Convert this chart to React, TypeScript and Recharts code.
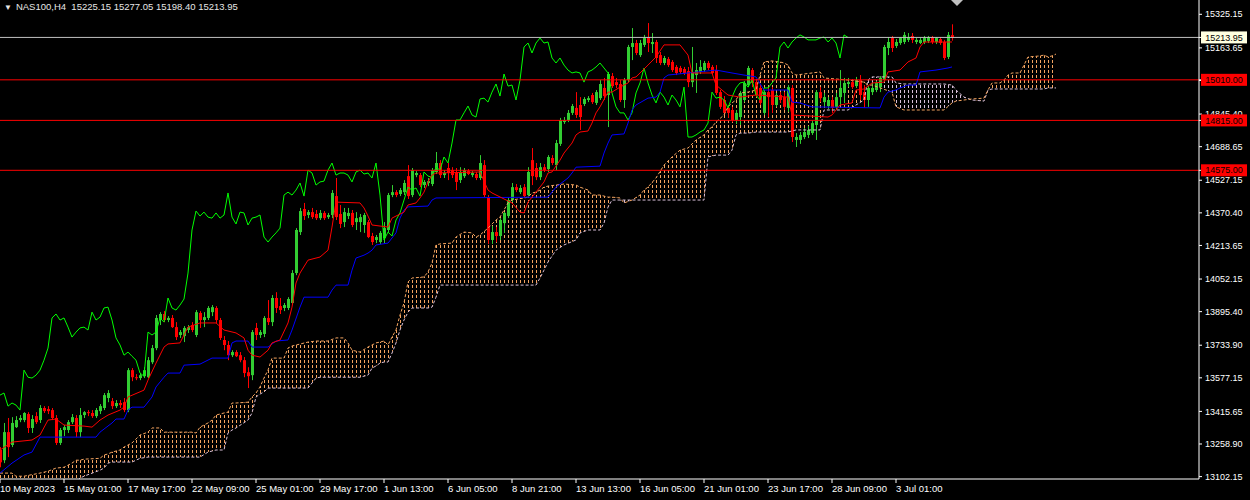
import React from 'react'
import { ComposedChart, Bar, Line, Area, XAxis, YAxis, ReferenceLine } from 'recharts'

const FONT = "'Liberation Sans', Arial, sans-serif"
const BULL = '#32cd32'
const BEAR = '#ff0000'
const SPAN_A = '#f4a460'
const SPAN_B = '#d8bfd8'

// NAS100 H4 bars, bar 0 = 10 May 2023 — [open, high, low, close]
const candles: [number, number, number, number][] = [
  [13230, 13244, 13147, 13171], [13181, 13360, 13167, 13316], [13316, 13384, 13196, 13244], [13254, 13388, 13244, 13360],
  [13340, 13393, 13336, 13374], [13374, 13398, 13364, 13384], [13374, 13412, 13364, 13408], [13403, 13412, 13312, 13336],
  [13336, 13398, 13312, 13379], [13393, 13412, 13355, 13364], [13374, 13446, 13360, 13432], [13432, 13441, 13408, 13417],
  [13427, 13441, 13403, 13417], [13422, 13432, 13374, 13384], [13384, 13398, 13254, 13264], [13264, 13336, 13254, 13326],
  [13326, 13350, 13297, 13340], [13326, 13374, 13312, 13364], [13364, 13403, 13355, 13388], [13384, 13398, 13292, 13316],
  [13316, 13432, 13292, 13398], [13398, 13417, 13384, 13412], [13412, 13422, 13393, 13408], [13408, 13422, 13384, 13393],
  [13393, 13432, 13384, 13422], [13417, 13451, 13403, 13441], [13432, 13504, 13422, 13494], [13480, 13518, 13460, 13504],
  [13465, 13480, 13427, 13441], [13441, 13470, 13432, 13456], [13456, 13470, 13432, 13446], [13460, 13480, 13412, 13422],
  [13422, 13624, 13412, 13614], [13614, 13624, 13561, 13580], [13580, 13595, 13566, 13576], [13576, 13600, 13566, 13590],
  [13585, 13628, 13576, 13614], [13580, 13677, 13576, 13662], [13652, 13735, 13643, 13720], [13720, 13879, 13710, 13865],
  [13855, 13893, 13831, 13884], [13884, 13898, 13845, 13855], [13855, 13874, 13845, 13865], [13865, 13879, 13817, 13821],
  [13821, 13845, 13759, 13773], [13783, 13807, 13769, 13797], [13778, 13826, 13749, 13817], [13807, 13831, 13793, 13821],
  [13831, 13845, 13797, 13807], [13783, 13903, 13773, 13893], [13889, 13898, 13817, 13855], [13855, 13893, 13821, 13869],
  [13865, 13922, 13855, 13913], [13893, 13927, 13874, 13917], [13913, 13922, 13841, 13855], [13855, 13865, 13759, 13769],
  [13759, 13778, 13710, 13735], [13735, 13754, 13662, 13686], [13686, 13710, 13677, 13701], [13701, 13710, 13677, 13681],
  [13686, 13701, 13652, 13662], [13662, 13677, 13580, 13600], [13604, 13628, 13528, 13585], [13590, 13807, 13566, 13797],
  [13817, 13841, 13759, 13783], [13783, 13807, 13769, 13797], [13788, 13874, 13773, 13865], [13865, 13951, 13831, 13845],
  [13845, 13975, 13826, 13961], [13961, 13989, 13889, 13913], [13922, 13961, 13884, 13903], [13913, 13937, 13898, 13927],
  [13913, 13965, 13903, 13956], [13937, 14095, 13927, 14081], [14081, 14297, 14071, 14288], [14278, 14394, 14264, 14379],
  [14389, 14418, 14336, 14355], [14360, 14384, 14345, 14374], [14374, 14394, 14341, 14350], [14365, 14384, 14336, 14345],
  [14345, 14384, 14336, 14370], [14370, 14379, 14336, 14345], [14350, 14370, 14341, 14360], [14360, 14480, 14345, 14466],
  [14451, 14538, 14336, 14350], [14365, 14408, 14297, 14317], [14326, 14394, 14302, 14374], [14355, 14394, 14341, 14370],
  [14370, 14384, 14302, 14312], [14326, 14374, 14288, 14345], [14326, 14365, 14278, 14350], [14312, 14370, 14274, 14360],
  [14326, 14336, 14249, 14254], [14259, 14274, 14216, 14230], [14240, 14264, 14225, 14254], [14230, 14283, 14221, 14274],
  [14249, 14326, 14225, 14297], [14288, 14466, 14278, 14456], [14456, 14504, 14446, 14470], [14470, 14480, 14446, 14456],
  [14461, 14490, 14451, 14480], [14470, 14528, 14456, 14514], [14547, 14600, 14437, 14451], [14456, 14586, 14446, 14576],
  [14552, 14571, 14542, 14562], [14552, 14562, 14494, 14504], [14504, 14528, 14490, 14519], [14514, 14538, 14499, 14523],
  [14509, 14586, 14499, 14576], [14567, 14663, 14557, 14610], [14610, 14624, 14538, 14552], [14552, 14576, 14538, 14562],
  [14586, 14610, 14528, 14562], [14576, 14590, 14538, 14552], [14562, 14586, 14480, 14519], [14528, 14590, 14514, 14567],
  [14547, 14586, 14538, 14576], [14571, 14581, 14552, 14557], [14552, 14571, 14542, 14562], [14557, 14567, 14528, 14538],
  [14538, 14648, 14528, 14610], [14600, 14624, 14446, 14456], [14446, 14456, 14221, 14240], [14240, 14307, 14221, 14278],
  [14278, 14302, 14230, 14259], [14259, 14345, 14240, 14336], [14321, 14374, 14274, 14370], [14355, 14442, 14345, 14432],
  [14432, 14514, 14422, 14494], [14494, 14509, 14470, 14480], [14470, 14504, 14461, 14490], [14494, 14509, 14442, 14451],
  [14456, 14590, 14451, 14567], [14624, 14682, 14504, 14547], [14586, 14610, 14528, 14542], [14542, 14610, 14528, 14590],
  [14590, 14605, 14567, 14576], [14581, 14648, 14567, 14639], [14634, 14648, 14600, 14610], [14600, 14721, 14576, 14706],
  [14702, 14827, 14692, 14817], [14807, 14831, 14798, 14817], [14817, 14865, 14807, 14851], [14851, 14894, 14841, 14884],
  [14875, 14951, 14827, 14841], [14889, 14927, 14769, 14831], [14894, 14927, 14884, 14918], [14913, 14932, 14903, 14922],
  [14937, 14947, 14894, 14903], [14899, 14961, 14889, 14951], [14922, 15009, 14913, 14990], [14971, 15019, 14913, 14932],
  [14937, 15048, 14783, 15038], [15028, 15043, 14971, 14980], [14999, 15019, 14971, 14985], [14990, 15009, 14903, 14913],
  [14913, 15019, 14875, 15009], [15009, 15178, 14999, 15168], [15168, 15259, 15105, 15187], [15187, 15202, 15129, 15139],
  [15129, 15202, 15120, 15187], [15178, 15226, 15168, 15211], [15216, 15283, 15144, 15187], [15182, 15235, 15139, 15192],
  [15192, 15202, 15091, 15115], [15129, 15144, 15081, 15091], [15091, 15125, 15081, 15115], [15110, 15120, 15072, 15081],
  [15096, 15105, 15048, 15057], [15072, 15081, 15033, 15043], [15067, 15077, 15038, 15048], [15062, 15072, 15033, 15043],
  [15052, 15072, 14975, 14999], [14999, 15168, 14975, 15048], [15033, 15091, 14947, 15057], [15048, 15105, 15038, 15072],
  [15057, 15101, 15048, 15091], [15091, 15101, 15057, 15067], [15072, 15081, 15033, 15043], [15057, 15081, 14937, 14947],
  [14951, 14961, 14870, 14880], [14913, 14932, 14841, 14851], [14875, 14889, 14827, 14851], [14865, 14880, 14807, 14817],
  [14817, 14865, 14798, 14851], [14831, 14956, 14793, 14947], [14913, 15004, 14903, 14995], [14985, 15077, 14975, 15067],
  [15057, 15067, 14975, 14995], [14999, 15014, 14927, 14937], [14971, 14985, 14889, 14899], [14851, 14961, 14841, 14951],
  [14951, 14971, 14831, 14927], [14961, 14975, 14851, 14889], [14889, 14947, 14880, 14937], [14937, 14951, 14899, 14913],
  [14927, 14951, 14865, 14880], [14875, 14985, 14856, 14975], [14971, 14985, 14711, 14735], [14721, 14754, 14687, 14735],
  [14721, 14759, 14702, 14745], [14735, 14778, 14725, 14759], [14745, 14788, 14730, 14769], [14754, 14817, 14745, 14802],
  [14793, 14961, 14721, 14951], [14951, 14975, 14903, 14922], [14903, 14947, 14880, 14927], [14884, 14927, 14870, 14913],
  [14913, 14927, 14851, 14875], [14880, 14947, 14865, 14927], [14927, 15057, 14889, 14971], [14947, 15019, 14899, 14995],
  [14990, 15019, 14975, 14999], [14999, 15014, 14966, 14975], [14980, 15024, 14971, 15009], [15009, 15033, 14913, 14937],
  [14951, 14985, 14875, 14913], [14913, 14980, 14880, 14971], [14951, 14995, 14937, 14971], [14961, 15004, 14951, 14995],
  [14975, 15028, 14951, 15019], [15009, 15178, 14999, 15168], [15163, 15216, 15129, 15192], [15211, 15221, 15144, 15163],
  [15173, 15206, 15163, 15192], [15187, 15216, 15178, 15211], [15192, 15240, 15182, 15226], [15202, 15235, 15192, 15216],
  [15221, 15235, 15187, 15202], [15192, 15211, 15182, 15202], [15187, 15211, 15182, 15202], [15192, 15221, 15182, 15211],
  [15197, 15221, 15187, 15216], [15216, 15221, 15182, 15192], [15192, 15216, 15182, 15211], [15206, 15216, 15178, 15187],
  [15192, 15202, 15105, 15115], [15120, 15240, 15110, 15226], [15225.15, 15277.05, 15198.4, 15213.95],
]

// Ichimoku lines as [bar, price] corner points
const tenkan: [number, number][] = [
  [0, 13230], [3, 13268], [8, 13278], [10, 13302], [12, 13374], [14, 13379], [16, 13350], [21, 13345], [23, 13340],
  [25, 13374], [27, 13398], [30, 13422], [31, 13436], [32, 13485], [36, 13518], [37, 13566], [39, 13648], [41, 13725],
  [42, 13740], [45, 13745], [47, 13821], [50, 13841], [54, 13841], [56, 13807], [59, 13793], [61, 13769], [62, 13710],
  [63, 13686], [65, 13677], [67, 13710], [68, 13745], [70, 13759], [72, 13841], [73, 13917], [74, 14033], [75, 14081],
  [77, 14143], [80, 14158], [82, 14191], [83, 14302], [84, 14422], [90, 14418], [91, 14394], [92, 14355], [93, 14312],
  [97, 14302], [98, 14345], [99, 14355], [101, 14374], [102, 14408], [104, 14418], [105, 14442], [106, 14470],
  [107, 14519], [108, 14552], [109, 14562], [120, 14567], [122, 14480], [123, 14466], [128, 14418], [130, 14374],
  [131, 14370], [132, 14422], [134, 14470], [136, 14519], [137, 14562], [138, 14567], [140, 14624], [141, 14658],
  [143, 14706], [144, 14745], [145, 14759], [147, 14764], [148, 14802], [149, 14851], [150, 14880], [152, 14951],
  [153, 14951], [155, 14975], [157, 14995], [158, 15019], [159, 15024], [161, 15062], [162, 15081], [164, 15120],
  [166, 15178], [170, 15178], [172, 15129], [173, 15043], [178, 15043], [179, 14985], [182, 14937], [185, 14927],
  [189, 14937], [197, 14927], [198, 14841], [207, 14831], [208, 14841], [210, 14889], [213, 14899], [214, 14961],
  [216, 14966], [218, 14995], [221, 14999], [222, 15048], [225, 15057], [227, 15096], [229, 15115], [230, 15168],
  [231, 15192], [238, 15192],
]

const kijun: [number, number][] = [
  [0, 13119], [3, 13167], [6, 13206], [8, 13220], [10, 13292], [24, 13292], [25, 13316], [28, 13360], [29, 13379],
  [31, 13379], [32, 13422], [33, 13436], [36, 13436], [38, 13485], [39, 13533], [41, 13580], [42, 13600], [45, 13600],
  [46, 13638], [50, 13643], [53, 13672], [57, 13672], [58, 13745], [59, 13754], [62, 13754], [63, 13725], [67, 13725],
  [69, 13754], [72, 13759], [73, 13807], [75, 13917], [76, 13965], [82, 13965], [83, 13999], [84, 14023], [87, 14023],
  [88, 14095], [89, 14153], [91, 14167], [92, 14177], [93, 14191], [94, 14216], [97, 14225], [99, 14274], [100, 14345],
  [101, 14384], [102, 14399], [107, 14403], [108, 14432], [109, 14442], [137, 14446], [139, 14494], [142, 14538],
  [143, 14562], [144, 14590], [150, 14595], [151, 14658], [152, 14706], [153, 14745], [156, 14750], [157, 14802],
  [158, 14865], [159, 14889], [162, 14922], [164, 14927], [165, 14951], [166, 15019], [167, 15033], [179, 15057],
  [183, 15043], [186, 15033], [189, 15024], [191, 14961], [197, 14961], [198, 14903], [200, 14899], [203, 14880],
  [220, 14875], [221, 14927], [222, 14951], [224, 14961], [225, 14971], [227, 14985], [229, 14985], [230, 15048],
  [234, 15057], [237, 15067], [238, 15072],
]

// cloud corner points: [bar, senkou span A, senkou span B]
const cloud: [number, number, number][] = [
  [0, 13119, 13027], [3, 13119, 13027], [4, 13104, 13027], [6, 13104, 13027], [10, 13119, 13027], [12, 13128, 13037],
  [14, 13143, 13046], [16, 13147, 13056], [18, 13167, 13066], [19, 13181, 13076], [20, 13181, 13095], [21, 13186, 13104],
  [25, 13190, 13133], [26, 13206, 13143], [27, 13211, 13167], [28, 13220, 13172], [30, 13230, 13172], [31, 13244, 13172],
  [33, 13264, 13172], [35, 13302, 13190], [37, 13316, 13196], [38, 13336, 13196], [40, 13336, 13196], [41, 13316, 13196],
  [48, 13316, 13196], [49, 13312, 13196], [50, 13340, 13196], [52, 13360, 13220], [53, 13374, 13225], [54, 13398, 13230],
  [56, 13408, 13230], [57, 13412, 13312], [58, 13456, 13326], [59, 13456, 13336], [62, 13460, 13374], [63, 13485, 13408],
  [64, 13504, 13485], [65, 13533, 13499], [66, 13576, 13509], [67, 13614, 13528], [68, 13672, 13528], [71, 13672, 13528],
  [72, 13720, 13528], [73, 13730, 13528], [77, 13749, 13528], [79, 13754, 13576], [80, 13754, 13580], [82, 13754, 13580],
  [84, 13769, 13580], [86, 13769, 13580], [87, 13745, 13580], [88, 13710, 13580], [90, 13701, 13580], [92, 13725, 13590],
  [93, 13735, 13624], [94, 13745, 13634], [95, 13749, 13648], [96, 13754, 13653], [97, 13735, 13653], [98, 13773, 13696],
  [99, 13807, 13745], [100, 13879, 13807], [101, 13937, 13855], [102, 14038, 13893], [103, 14057, 13913], [106, 14062, 13913],
  [107, 14086, 13913], [108, 14129, 13917], [109, 14216, 13965], [110, 14221, 14023], [113, 14225, 14023], [114, 14254, 14023],
  [116, 14278, 14023], [118, 14274, 14023], [119, 14254, 14023], [120, 14264, 14023], [122, 14297, 14023], [124, 14336, 14023],
  [125, 14350, 14023], [126, 14384, 14023], [127, 14418, 14023], [128, 14432, 14023], [131, 14442, 14023], [132, 14446, 14023],
  [133, 14466, 14023], [134, 14470, 14023], [135, 14480, 14057], [136, 14494, 14095], [137, 14499, 14134], [139, 14504, 14191],
  [141, 14509, 14216], [144, 14504, 14240], [145, 14494, 14274], [147, 14480, 14288], [148, 14456, 14288], [150, 14456, 14288],
  [151, 14451, 14321], [152, 14446, 14398], [153, 14446, 14432], [155, 14442, 14432], [156, 14418, 14432], [158, 14432, 14432],
  [160, 14456, 14432], [161, 14480, 14432], [162, 14494, 14432], [164, 14538, 14432], [166, 14600, 14432], [168, 14639, 14432],
  [170, 14672, 14432], [172, 14682, 14432], [174, 14721, 14432], [176, 14745, 14432], [177, 14769, 14639], [178, 14783, 14644],
  [179, 14807, 14648], [181, 14841, 14648], [182, 14880, 14648], [183, 14899, 14672], [184, 14913, 14745], [185, 14947, 14754],
  [187, 14951, 14754], [189, 14961, 14759], [190, 15033, 14759], [191, 15096, 14759], [193, 15101, 14759], [195, 15096, 14759],
  [196, 15091, 14759], [197, 15081, 14759], [198, 15043, 14764], [199, 15033, 14769], [203, 15043, 14769], [205, 15048, 14769],
  [206, 15019, 14865], [212, 15009, 14865], [216, 14999, 14913], [217, 14985, 15009], [218, 14985, 15024], [223, 14951, 15024],
  [224, 14880, 14995], [226, 14865, 14990], [236, 14865, 14990], [238, 14899, 14985], [239, 14908, 14961], [241, 14913, 14927],
  [243, 14918, 14913], [246, 14922, 14908], [247, 14961, 14961], [248, 14995, 14966], [250, 14995, 14966], [251, 15009, 14966],
  [252, 15033, 14966], [253, 15043, 14966], [255, 15043, 14966], [256, 15081, 14966], [257, 15120, 14966], [260, 15125, 14966],
  [261, 15129, 14966], [262, 15120, 14971], [263, 15125, 14971], [264, 15134, 14971],
]

const timeLabels = [
  '10 May 2023', '15 May 01:00', '17 May 17:00', '22 May 09:00', '25 May 01:00', '29 May 17:00', '1 Jun 13:00',
  '6 Jun 05:00', '8 Jun 21:00', '13 Jun 13:00', '16 Jun 05:00', '21 Jun 01:00', '23 Jun 17:00', '28 Jun 09:00',
  '3 Jul 01:00',
]
const BARS_PER_LABEL = 16
const priceTicks = [
  13102.15, 13258.9, 13415.65, 13577.15, 13733.9, 13895.4, 14052.15, 14213.65, 14370.4, 14527.15, 14688.65, 14845.4,
  15006.9, 15163.65, 15325.15,
]
const levels = [15010, 14815, 14575]
const lastPrice = 15213.95
const CHIKOU_SHIFT = 26

const rows = candles.map(([o, h, l, c], i) => ({
  bar: i,
  o, h, l, c,
  range: [l, h],
  chikou: i + CHIKOU_SHIFT < candles.length ? candles[i + CHIKOU_SHIFT][3] : null,
}))
const tenkanRows = tenkan.map(([bar, v]) => ({ bar, v }))
const kijunRows = kijun.map(([bar, v]) => ({ bar, v }))
const spanARows = cloud.map(([bar, a]) => ({ bar, v: a }))
const spanBRows = cloud.map(([bar, , b]) => ({ bar, v: b }))

type CloudSeg = { bull: boolean; rows: { bar: number; band: [number, number] }[] }
const cloudSegs: CloudSeg[] = []
for (let k = 0; k < cloud.length - 1; k++) {
  const [b0, a0, s0] = cloud[k]
  const [b1, a1, s1] = cloud[k + 1]
  const bull = a0 + a1 >= s0 + s1
  let seg = cloudSegs[cloudSegs.length - 1]
  if (!seg || seg.bull !== bull) {
    seg = { bull, rows: [{ bar: b0, band: [Math.min(a0, s0), Math.max(a0, s0)] }] }
    cloudSegs.push(seg)
  }
  seg.rows.push({ bar: b1, band: [Math.min(a1, s1), Math.max(a1, s1)] })
}

// price tags are drawn by the axis itself, after the plain labels, so they sit on top
const tagColors = new Map<number, string>([
  ...levels.map((lv) => [lv, '#ff0000'] as [number, string]),
  [lastPrice, '#ffffe0'],
])
const axisTicks = [...priceTicks, ...levels, lastPrice]

function Candle(props: any) {
  const { x, y, width, height, payload } = props
  if (x == null || !payload) return null
  const { o, h, l, c } = payload
  const color = c >= o ? BULL : BEAR
  const top = Math.min(y, y + height)
  const full = Math.abs(height)
  const k = h > l ? full / (h - l) : 0
  const yOf = (v: number) => top + (h - v) * k
  const cx = Math.round(x + width / 2)
  const bodyTop = yOf(Math.max(o, c))
  const bodyBottom = yOf(Math.min(o, c))
  return (
    <g>
      <rect x={cx} y={top} width={1} height={Math.max(1, full)} fill={color} />
      <rect x={cx - 1} y={bodyTop} width={3} height={Math.max(1, bodyBottom - bodyTop)} fill={color} />
    </g>
  )
}

function TimeTick(props: any) {
  const { x, y, payload } = props
  const label = timeLabels[Math.round(payload.value / BARS_PER_LABEL)] ?? ''
  return (
    <text x={x} y={y} dy="0.71em" fill="#ffffff" fontSize={9.5} fontFamily={FONT} textAnchor="start">
      {label}
    </text>
  )
}

function PriceTick(props: any) {
  const { x, y, payload } = props
  const value: number = payload.value
  const bg = tagColors.get(value)
  if (bg) {
    return (
      <g>
        <rect x={x - 4} y={y - 6} width={46} height={12} fill={bg} />
        <text x={x + 19} y={y} dy="0.35em" textAnchor="middle" fontSize={9} fontFamily={FONT} fill="#000000">
          {value.toFixed(2)}
        </text>
      </g>
    )
  }
  return (
    <text x={x} y={y} dy="0.35em" textAnchor="start" fontSize={9} fontFamily={FONT} fill="#ffffff">
      {value.toFixed(2)}
    </text>
  )
}

export default function App() {
  return (
    <div style={{ position: 'absolute', left: 0, top: 0, width: 1250, height: 500, background: '#000000' }}>
      <ComposedChart width={1250} height={500} data={rows} margin={{ top: 0, right: 0, bottom: 0, left: 0 }}>
        <defs>
          <pattern id="hatchBull" patternUnits="userSpaceOnUse" x={0} y={0} width={4} height={5}>
            <rect x={0} y={0} width={1} height={3} fill={SPAN_A} />
          </pattern>
          <pattern id="hatchBear" patternUnits="userSpaceOnUse" x={0} y={0} width={4} height={5}>
            <rect x={0} y={0} width={1} height={3} fill={SPAN_B} />
          </pattern>
        </defs>
        <XAxis
          type="number"
          dataKey="bar"
          domain={[0, 299.75]}
          allowDataOverflow
          ticks={timeLabels.map((_, i) => i * BARS_PER_LABEL)}
          interval={0}
          height={21}
          tickSize={4}
          tickMargin={2}
          axisLine={{ stroke: '#ffffff' }}
          tickLine={{ stroke: '#ffffff' }}
          tick={<TimeTick />}
        />
        <YAxis
          orientation="right"
          width={51}
          domain={[13090.6, 15393.9]}
          allowDataOverflow
          ticks={axisTicks}
          interval={0}
          tickSize={3}
          tickMargin={3}
          axisLine={{ stroke: '#ffffff' }}
          tickLine={{ stroke: '#ffffff' }}
          tick={<PriceTick />}
        />
        {cloudSegs.map((seg, i) => (
          <Area
            key={`cloud-${i}`}
            data={seg.rows}
            dataKey="band"
            type="linear"
            stroke="none"
            fill={seg.bull ? 'url(#hatchBull)' : 'url(#hatchBear)'}
            fillOpacity={1}
            dot={false}
            activeDot={false}
            isAnimationActive={false}
          />
        ))}
        <Line data={spanBRows} dataKey="v" type="linear" stroke={SPAN_B} strokeDasharray="3 2" dot={false} activeDot={false} isAnimationActive={false} />
        <Line data={spanARows} dataKey="v" type="linear" stroke={SPAN_A} strokeDasharray="3 2" dot={false} activeDot={false} isAnimationActive={false} />
        <Bar dataKey="range" barSize={3} shape={<Candle />} isAnimationActive={false} />
        <Line dataKey="chikou" type="linear" stroke="#00ff00" strokeWidth={1} dot={false} activeDot={false} isAnimationActive={false} />
        <Line data={kijunRows} dataKey="v" type="linear" stroke="#0000ff" strokeWidth={1} dot={false} activeDot={false} isAnimationActive={false} />
        <Line data={tenkanRows} dataKey="v" type="linear" stroke="#ff0000" strokeWidth={1} dot={false} activeDot={false} isAnimationActive={false} />
        {levels.map((lv) => (
          <ReferenceLine key={lv} y={lv} stroke="#ff0000" strokeWidth={1} />
        ))}
        <ReferenceLine y={lastPrice} stroke="#c0c0c0" strokeWidth={1} />
      </ComposedChart>
      <div
        style={{
          position: 'absolute', left: 4, top: 1, color: '#e6e6e6', fontSize: 9.5, fontFamily: FONT,
          whiteSpace: 'pre', lineHeight: '12px',
        }}
      >
        <span style={{ fontSize: 8, marginRight: 4 }}>▼</span>NAS100,H4  15225.15 15277.05 15198.40 15213.95
      </div>
      <div
        style={{
          position: 'absolute', left: 951, top: 0, width: 0, height: 0,
          borderLeft: '6px solid transparent', borderRight: '6px solid transparent', borderTop: '6px solid #c0c0c0',
        }}
      />
    </div>
  )
}
